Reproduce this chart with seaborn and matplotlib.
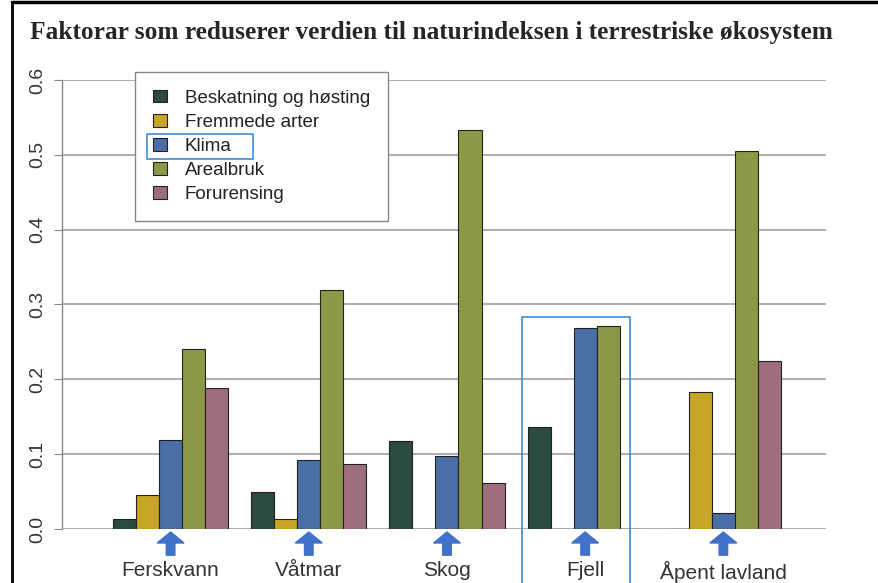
"""Faktorar som reduserer verdien til naturindeksen – grupperte stolpar."""

import matplotlib
matplotlib.use("Agg")
import matplotlib.pyplot as plt
import numpy as np
import pandas as pd
import seaborn as sns
from matplotlib.lines import Line2D
from matplotlib.patches import FancyArrow, Patch, Rectangle

# --- data lest av figuren ---
habitats = ["Ferskvann", "Våtmar", "Skog", "Fjell", "Åpent lavland"]
factors = ["Beskatning og høsting", "Fremmede arter", "Klima", "Arealbruk", "Forurensing"]
beskatning = [0.014, 0.050, 0.118, 0.136, 0.0]
fremmede = [0.045, 0.013, 0.0, 0.0, 0.183]
klima = [0.119, 0.092, 0.097, 0.268, 0.022]
arealbruk = [0.241, 0.319, 0.533, 0.271, 0.505]
forurensing = [0.189, 0.087, 0.062, 0.0, 0.224]
colors = ["#2b4a42", "#c8a526", "#4a6ea5", "#8c9847", "#9c6e80"]

title = "Faktorar som reduserer verdien til naturindeksen i terrestriske økosystem"

df = pd.DataFrame({
    "habitat": np.repeat(habitats, len(factors)),
    "factor": factors * len(habitats),
    "value": np.column_stack([beskatning, fremmede, klima, arealbruk, forurensing]).ravel(),
})

sns.set_style("white")
plt.rcParams["font.family"] = ["Liberation Sans", "DejaVu Sans"]

W, H = 879, 583
fig = plt.figure(figsize=(W / 100, H / 100), dpi=100)
# akse: x 62..826 px, y 529 (0.0) .. 80 (0.6)
ax = fig.add_axes([62 / W, (H - 529) / H, (826 - 62) / W, (529 - 80) / H])

sns.barplot(data=df, x="habitat", y="value", hue="factor", hue_order=factors,
            order=habitats, palette=colors, saturation=1, width=5 / 6,
            edgecolor="#222222", linewidth=0.8, legend=False, ax=ax, zorder=3)

ax.set_ylim(0, 0.6)
ax.set_xlim(-0.786, 4.743)
ax.set_yticks(np.arange(0, 0.61, 0.1))
ax.set_yticklabels([f"{v:.1f}" for v in np.arange(0, 0.61, 0.1)], rotation=90,
                   va="center", fontsize=14, color="#333333")
ax.yaxis.grid(True, color="#b0b0b0", lw=1.5, zorder=0)
ax.set_axisbelow(True)
for s in ["top", "right", "bottom"]:
    ax.spines[s].set_visible(False)
ax.spines["left"].set_color("#888888")
ax.spines["left"].set_linewidth(1.0)
ax.tick_params(axis="y", left=True, length=6, color="#888888", pad=5)
ax.tick_params(axis="x", length=0, pad=23, labelsize=15, labelcolor="#333333")
ax.set_xlabel("")
ax.set_ylabel("")

# blå pilar under kvar gruppe
for i in range(len(habitats)):
    ax.add_patch(FancyArrow(i, -0.035, 0, 0.031, width=0.062, head_width=0.195,
                            head_length=0.0147, length_includes_head=True,
                            color="#3f72c8", clip_on=False, zorder=4))

handles = [Patch(facecolor=c, edgecolor="#222222", lw=0.8) for c in colors]
leg = ax.legend(handles, factors, loc="upper left",
                bbox_to_anchor=(135 / W, 1 - 72 / H), bbox_transform=fig.transFigure,
                fontsize=13.5, frameon=True, fancybox=False, edgecolor="#888888",
                framealpha=1, borderpad=0.95, labelspacing=0.38, handlelength=0.75,
                handleheight=0.65, handletextpad=0.95, borderaxespad=0)
leg.get_frame().set_linewidth(1.0)
for t in leg.get_texts():
    t.set_color("#222222")

fig.text(30 / W, 1 - 32 / H, title, fontsize=18.3, fontweight="bold",
         family="Liberation Serif", va="center", ha="left")

# blå markeringsboksar
fig.patches.append(Rectangle((147 / W, 1 - 159 / H), 106 / W, 25 / H, fill=False,
                             edgecolor="#3a8fd8", lw=1.2, transform=fig.transFigure))
fig.patches.append(Rectangle((522 / W, 1 - 590 / H), 108 / W, 273 / H, fill=False,
                             edgecolor="#3a8fd8", lw=1.2, transform=fig.transFigure))

# ramme oppe og til venstre
fig.lines.append(Line2D([12 / W, 1], [1 - 2 / H, 1 - 2 / H], color="black", lw=2.5,
                        transform=fig.transFigure))
fig.lines.append(Line2D([12 / W, 12 / W], [0, 1 - 2 / H], color="black", lw=2,
                        transform=fig.transFigure))

fig.savefig("out.png", dpi=100)
